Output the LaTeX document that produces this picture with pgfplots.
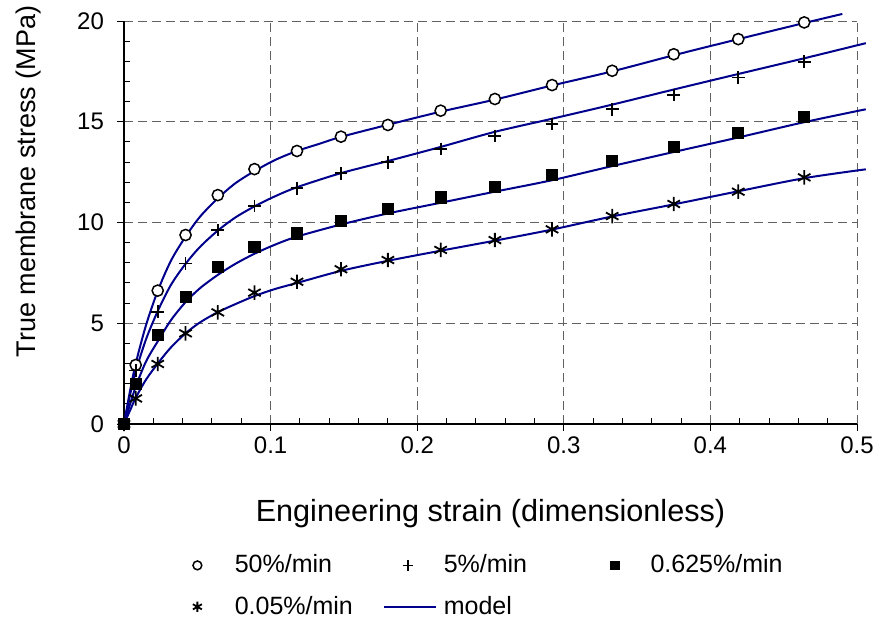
\documentclass[border=0pt]{standalone}
\usepackage{fontspec}
\setmainfont{Liberation Sans}
\usepackage{pgfplots}
\pgfplotsset{compat=1.18}
\definecolor{navy}{RGB}{0,0,140}
\pgfplotsset{
  limg/.style n args={3}{legend image code/.code={\path (#1,-10pt) (#2,10pt);\draw[##1,mark size=#3] plot coordinates {(0pt,0pt)};}},
  modelleg/.style={legend image code/.code={\draw[##1] (-12pt,0pt) -- (14pt,0pt);\path (-12pt,-10pt) (17.5pt,10pt);}},
}
\begin{document}
\begin{tikzpicture}
\path[use as bounding box] (-62pt,-99pt) rectangle (378.5pt,212pt);
\begin{axis}[
  at={(0pt,0pt)}, anchor=south west,
  scale only axis, width=366.5pt, height=201.5pt,
  xmin=0, xmax=0.5, ymin=0, ymax=20,
  xtick={0,0.1,0.2,0.3,0.4,0.5}, ytick={0,5,10,15,20},
  minor tick num=4,
  axis x line*=bottom, axis y line*=left,
  axis line style={-, black, line width=0.6pt},
  tick align=inside, major tick length=0pt, minor tick length=3pt,
  tick style={black, line width=0.5pt},
  extra x ticks={0,0.1,0.2,0.3,0.4,0.5}, extra y ticks={0,5,10,15,20},
  extra x tick labels={,,,,,}, extra y tick labels={,,,,},
  extra tick style={tick align=outside, major tick length=3.5pt, grid=none},
  grid=major,
  major grid style={dash pattern=on 4.5pt off 2.5pt, black!62, line width=0.5pt},
  /pgf/number format/assume math mode=true,
  ticklabel style={font=\fontsize{12}{14}\selectfont},
  yticklabel style={xshift=-6.5pt},
  xticklabel style={yshift=-3pt},
  xlabel={Engineering strain (dimensionless)},
  ylabel={True membrane stress (MPa)},
  xlabel style={at={(axis description cs:0.5,-0.2233)}, anchor=center, font=\fontsize{15.3}{18}\selectfont},
  ylabel style={at={(axis description cs:-0.1296,0.602)}, anchor=center, font=\fontsize{13.5}{16}\selectfont},
  clip=false,
  legend columns=3,
  legend cell align=left,
  legend style={at={(axis description cs:0.0832,-0.3002)}, anchor=north west, draw=none, fill=none,
    inner sep=0pt, outer sep=0pt, column sep=0pt, row sep=0pt,
    nodes={inner sep=0pt, font=\fontsize{12.5}{14}\selectfont}},
]
% model curves
\addplot[navy, line width=1pt, smooth, tension=0.5, forget plot] coordinates {
(0,0)(0.004,1.6)(0.008,3.0)(0.015,4.9)(0.023,6.6)(0.032,8.1)(0.042,9.3)(0.052,10.3)(0.064,11.2)(0.076,11.95)(0.089,12.55)(0.103,13.1)(0.118,13.55)(0.133,13.9)(0.148,14.25)(0.180,14.85)(0.216,15.5)(0.253,16.1)(0.292,16.8)(0.333,17.5)(0.375,18.3)(0.419,19.1)(0.464,19.9)(0.49,20.35)};
\addplot[navy, line width=1pt, smooth, tension=0.5, forget plot] coordinates {
(0,0)(0.004,1.4)(0.008,2.6)(0.015,4.2)(0.023,5.6)(0.032,6.9)(0.042,7.95)(0.052,8.8)(0.064,9.6)(0.076,10.25)(0.089,10.8)(0.103,11.3)(0.118,11.75)(0.148,12.45)(0.180,13.05)(0.216,13.75)(0.253,14.5)(0.292,15.15)(0.333,15.85)(0.375,16.6)(0.419,17.37)(0.464,18.15)(0.506,18.9)};
\addplot[navy, line width=1pt, smooth, tension=0.5, forget plot] coordinates {
(0,0)(0.004,0.95)(0.008,1.85)(0.015,3.1)(0.023,4.1)(0.032,5.15)(0.042,6.05)(0.052,6.75)(0.064,7.4)(0.076,7.95)(0.089,8.45)(0.103,8.9)(0.118,9.3)(0.148,9.9)(0.180,10.45)(0.216,10.98)(0.253,11.53)(0.292,12.1)(0.333,12.8)(0.375,13.5)(0.419,14.22)(0.464,14.98)(0.506,15.62)};
\addplot[navy, line width=1pt, smooth, tension=0.5, forget plot] coordinates {
(0,0)(0.004,0.65)(0.008,1.3)(0.015,2.2)(0.023,3.0)(0.032,3.8)(0.042,4.5)(0.052,5.05)(0.064,5.55)(0.076,5.95)(0.089,6.35)(0.103,6.7)(0.118,7.0)(0.148,7.6)(0.180,8.1)(0.216,8.6)(0.253,9.1)(0.292,9.65)(0.333,10.3)(0.375,10.9)(0.419,11.55)(0.464,12.2)(0.506,12.64)};
% data
\addplot[only marks, mark=*, mark size=2.8pt, mark options={fill=white, draw=black, line width=0.75pt}, limg={-6pt}{18.5pt}{2.2pt}] coordinates {
(0,0)(0.008,2.93)(0.023,6.62)(0.042,9.38)(0.064,11.36)(0.089,12.65)(0.118,13.55)(0.148,14.26)(0.180,14.84)(0.216,15.55)(0.253,16.13)(0.292,16.82)(0.333,17.53)(0.375,18.35)(0.419,19.10)(0.464,19.93)};
\addlegendentry[text width=74pt, align=left]{50\%/min}
\addplot[only marks, mark=+, mark size=3.2pt, mark options={draw=black, line width=0.85pt}, limg={-12pt}{17.5pt}{2.6pt}] coordinates {
(0,0)(0.008,2.65)(0.023,5.57)(0.042,7.97)(0.064,9.63)(0.089,10.82)(0.118,11.70)(0.148,12.44)(0.180,12.99)(0.216,13.65)(0.253,14.29)(0.292,14.89)(0.333,15.62)(0.375,16.33)(0.419,17.20)(0.464,17.98)};
\addlegendentry[text width=79.5pt, align=left]{5\%/min}
\addplot[only marks, mark=square*, mark size=2.8pt, mark options={fill=black, draw=black}, limg={-6pt}{17.5pt}{2.2pt}] coordinates {
(0,0)(0.008,1.99)(0.023,4.42)(0.042,6.32)(0.064,7.81)(0.089,8.80)(0.118,9.46)(0.148,10.07)(0.180,10.67)(0.216,11.25)(0.253,11.75)(0.292,12.36)(0.333,13.05)(0.375,13.76)(0.419,14.46)(0.464,15.25)};
\addlegendentry[text width=80pt, align=left]{0.625\%/min}
\addplot[only marks, mark=asterisk, mark size=3.6pt, mark options={draw=black, line width=0.9pt}, limg={-6pt}{18.5pt}{2.6pt}] coordinates {
(0,0)(0.008,1.27)(0.023,2.98)(0.042,4.50)(0.064,5.54)(0.089,6.52)(0.118,7.06)(0.148,7.68)(0.180,8.14)(0.216,8.64)(0.253,9.13)(0.292,9.66)(0.333,10.32)(0.375,10.92)(0.419,11.53)(0.464,12.24)};
\addlegendentry[text width=74pt, align=left]{0.05\%/min}
\addlegendimage{navy, line width=1pt, modelleg}
\addlegendentry[text width=79.5pt, align=left]{model}
\end{axis}
\end{tikzpicture}
\end{document}
